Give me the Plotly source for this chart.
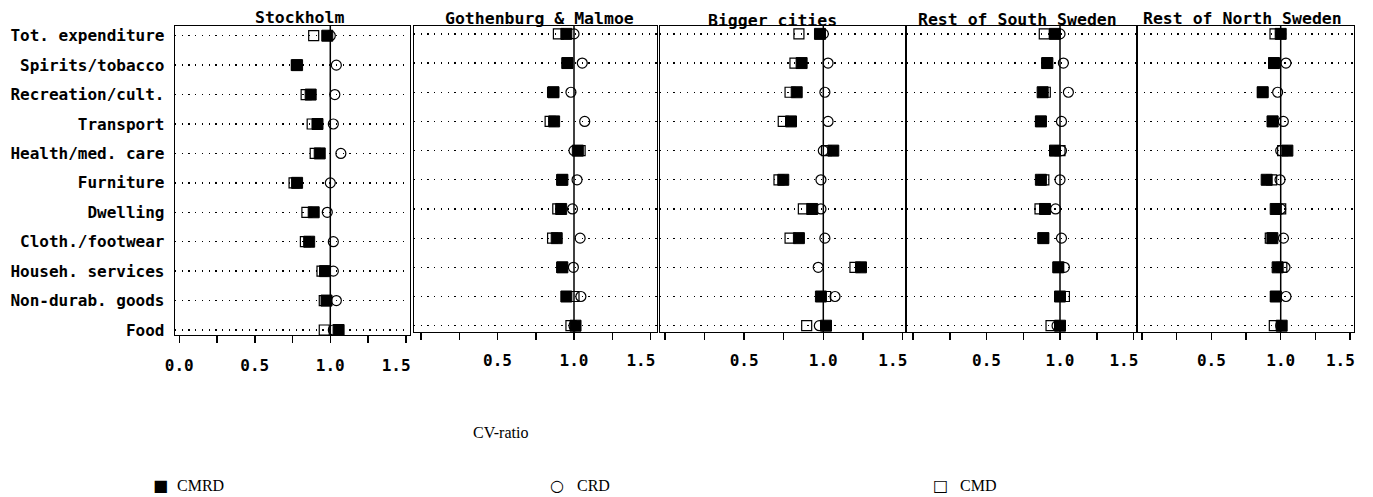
import plotly.graph_objects as go

# ---------------- data ----------------
categories = ["Tot. expenditure", "Spirits/tobacco", "Recreation/cult.", "Transport",
              "Health/med. care", "Furniture", "Dwelling", "Cloth./footwear",
              "Househ. services", "Non-durab. goods", "Food"]
regions = ["Stockholm", "Gothenburg & Malmoe", "Bigger cities",
           "Rest of South Sweden", "Rest of North Sweden"]
series_names = ["CMRD", "CRD", "CMD"]
series_glyphs = ["■", "○", "□"]

cmrd_stockholm = [0.98, 0.78, 0.87, 0.915, 0.93, 0.78, 0.89, 0.86, 0.965, 0.975, 1.055]
crd_stockholm = [1.00, 1.04, 1.03, 1.02, 1.07, 1.00, 0.98, 1.02, 1.02, 1.04, 1.02]
cmd_stockholm = [0.89, 0.775, 0.84, 0.88, 0.90, 0.76, 0.845, 0.835, 0.945, 0.96, 0.96]

cmrd_gothenburg = [0.95, 0.957, 0.866, 0.87, 1.025, 0.924, 0.916, 0.887, 0.924, 0.95, 1.01]
crd_gothenburg = [1.00, 1.054, 0.98, 1.07, 1.00, 1.02, 0.99, 1.04, 0.996, 1.045, 1.00]
cmd_gothenburg = [0.898, 0.955, 0.86, 0.844, 1.04, 0.92, 0.894, 0.86, 0.92, 1.00, 0.98]

cmrd_bigger = [0.979, 0.863, 0.832, 0.796, 1.063, 0.747, 0.93, 0.846, 1.238, 0.985, 1.017]
crd_bigger = [1.00, 1.03, 1.01, 1.03, 1.00, 0.985, 0.985, 1.01, 0.968, 1.074, 0.975]
cmd_bigger = [0.846, 0.821, 0.79, 0.747, 1.02, 0.72, 0.874, 0.79, 1.20, 1.015, 0.895]

cmrd_south = [0.966, 0.914, 0.882, 0.87, 0.966, 0.87, 0.898, 0.887, 0.988, 1.00, 1.00]
crd_south = [1.00, 1.023, 1.057, 1.01, 1.01, 1.00, 0.97, 1.01, 1.03, 1.00, 0.98]
cmd_south = [0.893, 0.91, 0.90, 0.87, 1.00, 0.89, 0.864, 0.885, 0.99, 1.03, 0.939]

cmrd_north = [1.00, 0.952, 0.87, 0.942, 1.048, 0.899, 0.964, 0.94, 0.978, 0.964, 1.007]
crd_north = [1.00, 1.038, 0.978, 1.019, 1.00, 0.995, 1.00, 1.02, 1.031, 1.038, 1.00]
cmd_north = [0.959, 0.95, 0.87, 0.94, 1.014, 0.935, 1.00, 0.925, 1.008, 0.964, 0.954]

NB = "\u00a0"
x_tickvals = [0.0, 0.25, 0.5, 0.75, 1.0, 1.25, 1.5]
x_ticktext_first = ["0.0", "", "0.5", "", "1.0", "", "1.5" + NB * 2]
x_ticktext_other = ["", "", "0.5", "", "1.0", "", "1.5" + NB * 2]
x_axis_title = "CV-ratio"

panel_data = [
    (cmrd_stockholm, crd_stockholm, cmd_stockholm),
    (cmrd_gothenburg, crd_gothenburg, cmd_gothenburg),
    (cmrd_bigger, crd_bigger, cmd_bigger),
    (cmrd_south, crd_south, cmd_south),
    (cmrd_north, crd_north, cmd_north),
]

# ---------------- layout geometry (pixels) ----------------
W, H = 1373, 497
panel_px = [(175, 410), (414, 657), (660, 905), (907, 1137), (1137, 1354)]
zero_px = [179.3, 421, 665, 913, 1142]
unit_px = [151, 153, 158.3, 147, 138.7]
ydom_px = [(26, 335), (26, 332), (26, 332), (26, 332), (26, 332)]
yrange = [(-0.17, 10.33), (-0.216, 10.27), (-0.216, 10.27), (-0.216, 10.27), (-0.216, 10.27)]
x_label_standoff = [8, 6, 6, 6, 6]
title_px = [(299, 17), (539, 18), (772, 20), (1017, 19), (1242, 18)]
legend_glyph_x = [160, 557, 940]
legend_text_x = [175, 575, 958]
legend_y_px = 485
xtitle_px = (500, 432)

MONO = "DejaVu Sans Mono"
SERIF = "Liberation Serif"

n = len(categories)
ypos = [n - 1 - i for i in range(n)]

fig = go.Figure()

styles = {
    "CMRD": dict(symbol="square", size=11, color="black", line=dict(color="black", width=1)),
    "CRD": dict(symbol="circle-open", size=10, color="black", line=dict(color="black", width=1.2)),
    "CMD": dict(symbol="square-open", size=10, color="black", line=dict(color="black", width=1.2)),
}
draw_order = ["CRD", "CMD", "CMRD"]

for p, (cmrd, crd, cmd) in enumerate(panel_data):
    vals = {"CMRD": cmrd, "CRD": crd, "CMD": cmd}
    sfx = "" if p == 0 else str(p + 1)
    for name in draw_order:
        fig.add_trace(go.Scatter(
            x=vals[name], y=ypos, mode="markers", name=name,
            marker=styles[name], xaxis="x" + sfx, yaxis="y" + sfx,
            showlegend=False, hoverinfo="skip"))

layout = dict(
    template="none",
    width=W, height=H, autosize=False,
    margin=dict(l=0, r=0, t=0, b=0, pad=0, autoexpand=False),
    paper_bgcolor="white", plot_bgcolor="white",
    showlegend=False,
    shapes=[], annotations=[],
)

for p in range(5):
    sfx = "" if p == 0 else str(p + 1)
    l, r = panel_px[p]
    z, u = zero_px[p], unit_px[p]
    yt, yb = ydom_px[p]
    layout["xaxis" + sfx] = dict(
        domain=[l / W, r / W], range=[(l - z) / u, (r - z) / u],
        anchor="y" + sfx, tickmode="array", tickvals=x_tickvals,
        ticktext=x_ticktext_first if p == 0 else x_ticktext_other,
        ticks="outside", ticklen=7, tickwidth=1.5, tickcolor="black",
        showline=True, linecolor="black", linewidth=1.3, mirror=True,
        showgrid=False, zeroline=False, fixedrange=True, automargin=False,
        ticklabeloverflow="allow",
        tickfont=dict(family=MONO, size=16, color="black", weight="bold"),
        ticklabelstandoff=x_label_standoff[p],
    )
    layout["yaxis" + sfx] = dict(
        domain=[1 - yb / H, 1 - yt / H], range=list(yrange[p]),
        anchor="x" + sfx, tickmode="array", tickvals=ypos, ticktext=categories,
        showticklabels=(p == 0), ticks="",
        showline=True, linecolor="black", linewidth=1.3, mirror=True,
        showgrid=True, gridcolor="black", gridwidth=1.3, griddash="1.3px,5.4px",
        zeroline=False, fixedrange=True, automargin=False,
        ticklabeloverflow="allow",
        tickfont=dict(family=MONO, size=16, color="black", weight="bold"),
        ticklabelstandoff=6,
    )
    layout["shapes"].append(dict(
        type="line", xref="x" + sfx, yref="y" + sfx + " domain",
        x0=1.0, x1=1.0, y0=0, y1=1, line=dict(color="black", width=1.5)))
    tx, ty = title_px[p]
    layout["annotations"].append(dict(
        text=regions[p], x=tx / W, y=1 - ty / H, xref="paper", yref="paper",
        xanchor="center", yanchor="middle", showarrow=False,
        font=dict(family=MONO, size=16.5, color="black", weight="bold")))

layout["annotations"].append(dict(
    text=x_axis_title, x=xtitle_px[0] / W, y=1 - xtitle_px[1] / H,
    xref="paper", yref="paper",
    xanchor="center", yanchor="middle", showarrow=False,
    font=dict(family=SERIF, size=16, color="black")))

# legend row (symbol glyph + series name)
for k, name in enumerate(series_names):
    layout["annotations"].append(dict(
        text=series_glyphs[k], x=legend_glyph_x[k] / W, y=1 - legend_y_px / H,
        xref="paper", yref="paper", xanchor="center", yanchor="middle", showarrow=False,
        font=dict(family="DejaVu Sans", size=16, color="black")))
    layout["annotations"].append(dict(
        text=name, x=legend_text_x[k] / W, y=1 - legend_y_px / H,
        xref="paper", yref="paper", xanchor="left", yanchor="middle", showarrow=False,
        font=dict(family=SERIF, size=16, color="black")))

fig.update_layout(**layout)
fig.write_html("out.html",
               config={"displayModeBar": False, "staticPlot": True},
               post_script="document.body.style.margin='0';document.body.style.overflow='hidden';")
